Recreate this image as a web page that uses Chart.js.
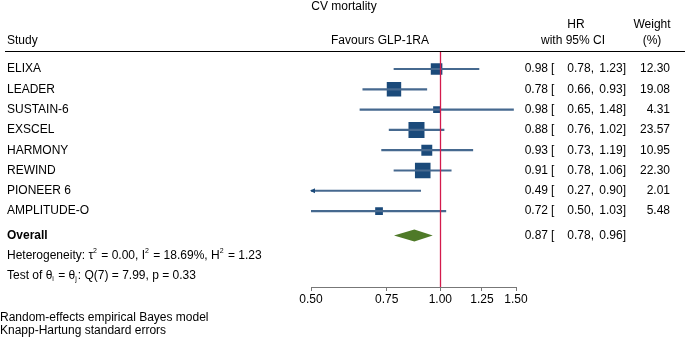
<!DOCTYPE html>
<html>
<head>
  <title>CV mortality</title>
  <script src="https://cdn.jsdelivr.net/npm/chart.js"></script>
  <style>
    body { margin: 0; background: #fff; }
  </style>
</head>
<body>
  <canvas id="forest" width="685" height="339"></canvas>

  <script>
    // data
    const studies = ["ELIXA", "LEADER", "SUSTAIN-6", "EXSCEL", "HARMONY", "REWIND", "PIONEER 6", "AMPLITUDE-O"];
    const hr = [0.98, 0.78, 0.98, 0.88, 0.93, 0.91, 0.49, 0.72];
    const lower = [0.78, 0.66, 0.65, 0.76, 0.73, 0.78, 0.27, 0.50];
    const upper = [1.23, 0.93, 1.48, 1.02, 1.19, 1.06, 0.90, 1.03];
    const weights = [12.30, 19.08, 4.31, 23.57, 10.95, 22.30, 2.01, 5.48];
    const overall = [0.87, 0.78, 0.96]; // estimate, lower, upper
    const xTicks = [0.50, 0.75, 1.00, 1.25, 1.50];

    const FONT = "'Liberation Sans', Arial, sans-serif";
    const rows = studies.map((s, i) => i + 1);
    const overallRow = 9.2;
    const hetRow = 10.22;
    const testRow = 11.2;

    function fmt(v) { return v.toFixed(2); }

    // text with super/subscripts
    function drawRuns(ctx, x, y, runs, size) {
      let cx = x;
      runs.forEach(r => {
        let txt = r[0], kind = r[1];
        if (kind) {
          ctx.font = (size - 5) + "px " + FONT;
          let dy = kind === "sup" ? -5 : 3;
          ctx.fillText(txt, cx, y + dy);
        } else {
          ctx.font = size + "px " + FONT;
          ctx.fillText(txt, cx, y);
        }
        cx += ctx.measureText(txt).width + (kind ? 1 : 0);
      });
    }

    const forestPlugin = {
      id: "forest",
      afterDatasetsDraw(chart) {
        const ctx = chart.ctx;
        const xs = chart.scales.x, ys = chart.scales.y;
        const area = chart.chartArea;

        // arrows for CIs running off the axis
        ctx.save();
        ctx.fillStyle = "#1b4a7a";
        lower.forEach((lo, i) => {
          if (lo < xs.min) {
            let px = area.left, py = ys.getPixelForValue(rows[i]);
            ctx.beginPath();
            ctx.moveTo(px - 1, py);
            ctx.lineTo(px + 4, py - 2.5);
            ctx.lineTo(px + 4, py + 2.5);
            ctx.closePath();
            ctx.fill();
          }
        });

        // overall diamond
        let oy = ys.getPixelForValue(overallRow);
        ctx.fillStyle = "#4f7a28";
        ctx.beginPath();
        ctx.moveTo(xs.getPixelForValue(overall[1]), oy);
        ctx.lineTo(xs.getPixelForValue(overall[0]), oy - 6);
        ctx.lineTo(xs.getPixelForValue(overall[2]), oy);
        ctx.lineTo(xs.getPixelForValue(overall[0]), oy + 6);
        ctx.closePath();
        ctx.fill();

        // line of no effect
        let rx = Math.round(xs.getPixelForValue(1)) + 0.5;
        ctx.strokeStyle = "#d41a4c";
        ctx.lineWidth = 1.3;
        ctx.beginPath();
        ctx.moveTo(rx, ys.getPixelForValue(0.15));
        ctx.lineTo(rx, area.bottom);
        ctx.stroke();
        ctx.restore();
      },
      afterDraw(chart) {
        const ctx = chart.ctx;
        const ys = chart.scales.y;
        const size = 12;
        ctx.save();
        ctx.fillStyle = "#000";
        ctx.textBaseline = "middle";
        ctx.font = size + "px " + FONT;

        // title and headers
        ctx.textAlign = "center";
        ctx.fillText("CV mortality", 344, 7);
        ctx.fillText("Favours GLP-1RA", 380, 41);
        ctx.fillText("HR", 576, 25);
        ctx.fillText("with 95% CI", 573, 41);
        ctx.fillText("Weight", 652, 25);
        ctx.fillText("(%)", 652, 41);
        ctx.textAlign = "left";
        ctx.fillText("Study", 7, 41);

        ctx.strokeStyle = "#000";
        ctx.lineWidth = 1;
        ctx.beginPath();
        ctx.moveTo(5, 51.5);
        ctx.lineTo(685, 51.5);
        ctx.stroke();

        function ciText(y, est, lo, hi) {
          ctx.textAlign = "right";
          ctx.fillText(fmt(est), 548, y);
          ctx.textAlign = "left";
          ctx.fillText("[", 551, y);
          ctx.textAlign = "right";
          ctx.fillText(fmt(lo) + ",", 594, y);
          ctx.fillText(fmt(hi) + "]", 626, y);
        }

        studies.forEach((s, i) => {
          let y = ys.getPixelForValue(rows[i]);
          ctx.textAlign = "left";
          ctx.fillText(s, 7, y);
          ciText(y, hr[i], lower[i], upper[i]);
          ctx.textAlign = "right";
          ctx.fillText(fmt(weights[i]), 670, y);
        });

        let oy = ys.getPixelForValue(overallRow);
        ctx.textAlign = "left";
        ctx.font = "bold " + size + "px " + FONT;
        ctx.fillText("Overall", 7, oy);
        ctx.font = size + "px " + FONT;
        ciText(oy, overall[0], overall[1], overall[2]);

        ctx.textAlign = "left";
        drawRuns(ctx, 7, ys.getPixelForValue(hetRow), [
          ["Heterogeneity: \u03c4"], ["2", "sup"], [" = 0.00, I"], ["2", "sup"],
          [" = 18.69%, H"], ["2", "sup"], [" = 1.23"]
        ], size);
        drawRuns(ctx, 7, ys.getPixelForValue(testRow), [
          ["Test of \u03b8"], ["i", "sub"], [" = \u03b8"], ["j", "sub"],
          [": Q(7) = 7.99, p = 0.33"]
        ], size);

        ctx.font = size + "px " + FONT;
        ctx.fillText("Random-effects empirical Bayes model", 0, 318);
        ctx.fillText("Knapp-Hartung standard errors", 0, 331);
        ctx.restore();
      }
    };

    new Chart(document.getElementById("forest"), {
      type: "scatter",
      data: {
        datasets: [
          {
            type: "bar",
            indexAxis: "y",
            data: rows.map((r, i) => ({ x: [lower[i], upper[i]], y: r })),
            backgroundColor: "#46698f",
            barThickness: 1.5,
            borderWidth: 0,
            clip: 0
          },
          {
            type: "scatter",
            data: rows.map((r, i) => ({ x: hr[i], y: r })),
            pointStyle: "rect",
            pointRadius: weights.map(w => 3.3 * Math.sqrt(w) / Math.SQRT2),
            backgroundColor: "#1b4a7a",
            borderWidth: 0,
            clip: 0
          }
        ]
      },
      options: {
        responsive: false,
        animation: false,
        events: [],
        layout: { padding: { left: 311, right: 169, top: 48.7, bottom: 0 } },
        plugins: { legend: { display: false }, tooltip: { enabled: false } },
        scales: {
          x: {
            type: "logarithmic",
            min: 0.5,
            max: 1.5,
            afterBuildTicks: s => { s.ticks = xTicks.map(v => ({ value: v })); },
            afterFit: s => { s.height = 52; },
            grid: { drawOnChartArea: false, tickLength: 4, tickColor: "#777" },
            border: { color: "#777" },
            ticks: {
              color: "#000",
              padding: 1,
              maxRotation: 0,
              autoSkip: false,
              font: { family: FONT, size: 12 },
              callback: v => Number(v).toFixed(2)
            }
          },
          y: {
            type: "linear",
            display: false,
            reverse: true,
            offset: false,
            min: 0,
            max: 11.74
          }
        }
      },
      plugins: [forestPlugin]
    });
  </script>
</body>
</html>
